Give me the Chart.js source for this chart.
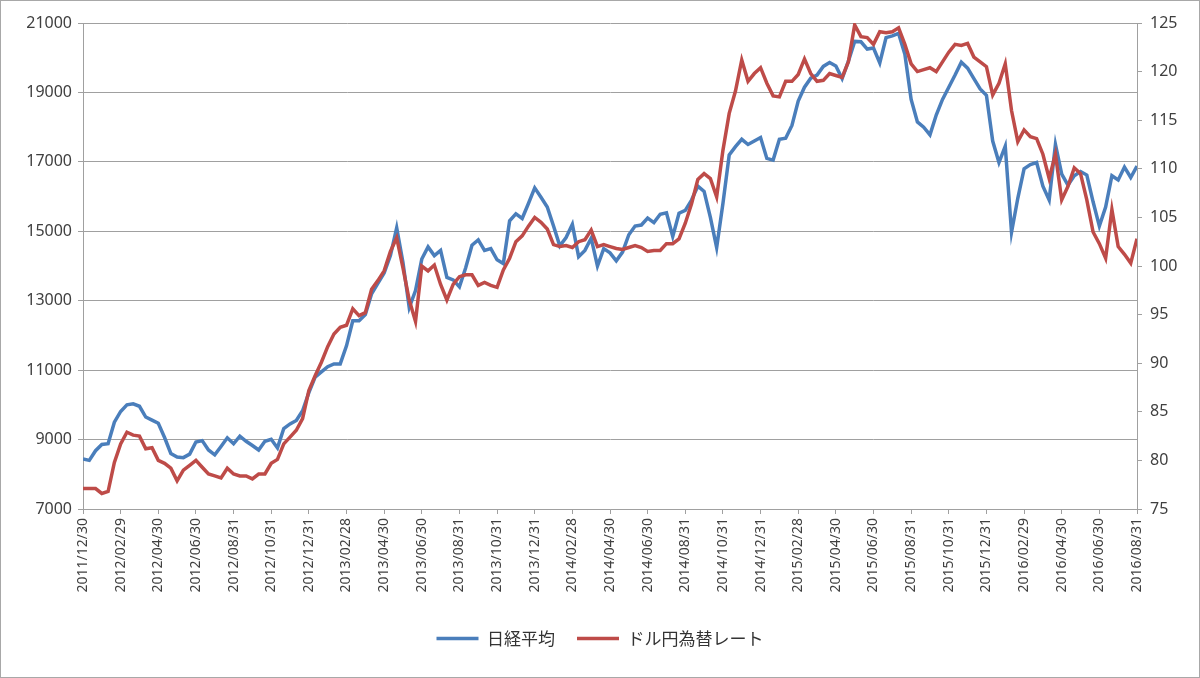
<!doctype html>
<html>

<head>
	<title>日経平均とドル円</title>
	<script src="https://cdn.jsdelivr.net/npm/chart.js@4/dist/chart.umd.min.js"></script>
	<style>
	body {
		margin: 0;
		background: #fff;
	}
	.frame {
		width: 1200px;
		height: 678px;
		box-sizing: border-box;
		border: 1px solid #a8a8a8;
	}
	canvas {
		display: block;
	}
	</style>
</head>

<body>
	<div class="frame"><canvas id="chart" width="1198" height="676"></canvas></div>
	<script>
		// one tick label every 6 points
		var pointsPerLabel = 6;
		var tickLabels = ['2011/12/30', '2012/02/29', '2012/04/30', '2012/06/30', '2012/08/31', '2012/10/31',
			'2012/12/31', '2013/02/28', '2013/04/30', '2013/06/30', '2013/08/31', '2013/10/31', '2013/12/31',
			'2014/02/28', '2014/04/30', '2014/06/30', '2014/08/31', '2014/10/31', '2014/12/31', '2015/02/28',
			'2015/04/30', '2015/06/30', '2015/08/31', '2015/10/31', '2015/12/31', '2016/02/29', '2016/04/30',
			'2016/06/30', '2016/08/31'];

		var nikkei = [8440, 8400, 8680, 8860, 8880, 9500, 9810, 10000, 10030, 9960,
			9650, 9560, 9470, 9060, 8600, 8500, 8480, 8580, 8930, 8970,
			8700, 8560, 8800, 9050, 8880, 9100, 8950, 8830, 8700, 8950,
			9010, 8760, 9320, 9450, 9550, 9830, 10350, 10800, 10950, 11100,
			11180, 11180, 11700, 12420, 12420, 12600, 13200, 13500, 13800, 14300,
			15100, 14100, 12800, 13290, 14200, 14550, 14300, 14450, 13670, 13600,
			13400, 13950, 14600, 14750, 14450, 14500, 14180, 14070, 15300, 15500,
			15370, 15800, 16250, 15980, 15700, 15150, 14580, 14820, 15200, 14270,
			14450, 14800, 14000, 14500, 14380, 14150, 14400, 14900, 15150, 15180,
			15380, 15250, 15490, 15530, 14850, 15520, 15600, 15900, 16300, 16150,
			15400, 14530, 15800, 17200, 17440, 17650, 17500, 17600, 17700, 17100,
			17050, 17650, 17680, 18050, 18750, 19150, 19410, 19500, 19750, 19860,
			19760, 19400, 19900, 20470, 20460, 20250, 20280, 19850, 20580, 20630,
			20700, 20100, 18800, 18150, 18000, 17780, 18350, 18800, 19150, 19500,
			19870, 19700, 19400, 19100, 18920, 17600, 16980, 17450, 14970, 15950,
			16800, 16920, 16980, 16300, 15900, 17500, 16650, 16330, 16600, 16720,
			16620, 15850, 15150, 15700, 16600, 16480, 16850, 16550, 16880];

		var usdjpy = [77.1, 77.1, 77.1, 76.6, 76.8, 79.8, 81.7, 82.9, 82.6, 82.5,
			81.2, 81.3, 80.0, 79.7, 79.2, 77.9, 79.0, 79.5, 80.0, 79.3,
			78.6, 78.4, 78.2, 79.2, 78.6, 78.4, 78.4, 78.1, 78.6, 78.6,
			79.7, 80.1, 81.7, 82.4, 83.1, 84.3, 87.2, 88.7, 90.1, 91.7,
			93.0, 93.7, 93.9, 95.6, 94.9, 95.2, 97.6, 98.5, 99.5, 101.5,
			102.9, 99.8, 96.5, 94.3, 100.0, 99.5, 100.1, 98.1, 96.5, 98.1,
			98.9, 99.1, 99.1, 98.0, 98.3, 98.0, 97.8, 99.6, 100.8, 102.5,
			103.1, 104.1, 105.0, 104.5, 103.8, 102.2, 102.0, 102.1, 101.9, 102.5,
			102.7, 103.7, 102.0, 102.2, 102.0, 101.8, 101.7, 101.9, 102.1, 101.9,
			101.5, 101.6, 101.6, 102.3, 102.3, 102.8, 104.4, 106.4, 108.9, 109.5,
			109.0, 107.1, 111.9, 115.7, 118.0, 121.2, 119.0, 119.8, 120.4, 118.8,
			117.5, 117.4, 119.0, 119.0, 119.7, 121.3, 119.8, 119.0, 119.1, 119.8,
			119.6, 119.4, 121.0, 124.8, 123.6, 123.5, 122.8, 124.1, 124.0, 124.1,
			124.5, 122.8, 120.8, 120.0, 120.2, 120.4, 120.0, 121.0, 122.0, 122.8,
			122.7, 122.9, 121.5, 121.0, 120.5, 117.6, 118.8, 120.8, 116.0, 112.8,
			114.0, 113.3, 113.1, 111.5, 109.0, 111.5, 106.8, 108.2, 110.1, 109.5,
			106.8, 103.5, 102.3, 100.8, 105.8, 102.0, 101.2, 100.3, 102.8];

		var blue = '#4a7ebb';
		var red = '#be4b48';
		var textColor = '#404040';
		var axisColor = '#a0a0a0';

		function toPoints(values) {
			return values.map(function(v, i) {
				return {x: i, y: v};
			});
		}

		var lastIndex = (tickLabels.length - 1) * pointsPerLabel;

		window.onload = function() {
			var ctx = document.getElementById('chart').getContext('2d');
			new Chart(ctx, {
				type: 'line',
				data: {
					datasets: [{
						label: '日経平均',
						data: toPoints(nikkei),
						borderColor: blue,
						backgroundColor: blue,
						borderWidth: 3.5,
						pointRadius: 0,
						yAxisID: 'y',
						order: 1
					}, {
						label: 'ドル円為替レート',
						data: toPoints(usdjpy),
						borderColor: red,
						backgroundColor: red,
						borderWidth: 3.5,
						pointRadius: 0,
						yAxisID: 'y1',
						order: 0
					}]
				},
				options: {
					responsive: false,
					animation: false,
					layout: {
						padding: {left: 10, right: 10, top: 22, bottom: 20}
					},
					plugins: {
						tooltip: {enabled: false},
						legend: {
							position: 'bottom',
							labels: {
								usePointStyle: true,
								pointStyle: 'line',
								pointStyleWidth: 42,
								padding: 22,
								color: '#333',
								font: {family: "'Noto Sans CJK JP', sans-serif", size: 17},
								sort: function(a, b) {
									return a.datasetIndex - b.datasetIndex;
								}
							}
						}
					},
					scales: {
						x: {
							type: 'linear',
							min: 0,
							max: lastIndex,
							afterBuildTicks: function(scale) {
								scale.ticks = tickLabels.map(function(t, k) {
									return {value: k * pointsPerLabel};
								});
							},
							afterFit: function(scale) {
								scale.height = 99;
							},
							ticks: {
								autoSkip: false,
								maxRotation: 90,
								minRotation: 90,
								padding: 4,
								color: textColor,
								font: {family: "'Noto Sans', sans-serif", size: 14},
								callback: function(value) {
									return tickLabels[Math.round(value / pointsPerLabel)];
								}
							},
							grid: {
								drawOnChartArea: false,
								color: axisColor,
								tickLength: 5
							},
							border: {color: axisColor}
						},
						y: {
							position: 'left',
							min: 7000,
							max: 21000,
							afterFit: function(scale) {
								scale.width = 72;
							},
							ticks: {
								stepSize: 2000,
								padding: 6,
								color: textColor,
								font: {family: "'Noto Sans', sans-serif", size: 16},
								callback: function(value) {
									return String(value);
								}
							},
							grid: {
								color: axisColor,
								tickLength: 5
							},
							border: {color: axisColor}
						},
						y1: {
							position: 'right',
							min: 75,
							max: 125,
							afterFit: function(scale) {
								scale.width = 52;
							},
							ticks: {
								stepSize: 5,
								padding: 8,
								color: textColor,
								font: {family: "'Noto Sans', sans-serif", size: 16}
							},
							grid: {
								drawOnChartArea: false,
								color: axisColor,
								tickLength: 5
							},
							border: {color: axisColor}
						}
					}
				}
			});
		};
	</script>
</body>

</html>
